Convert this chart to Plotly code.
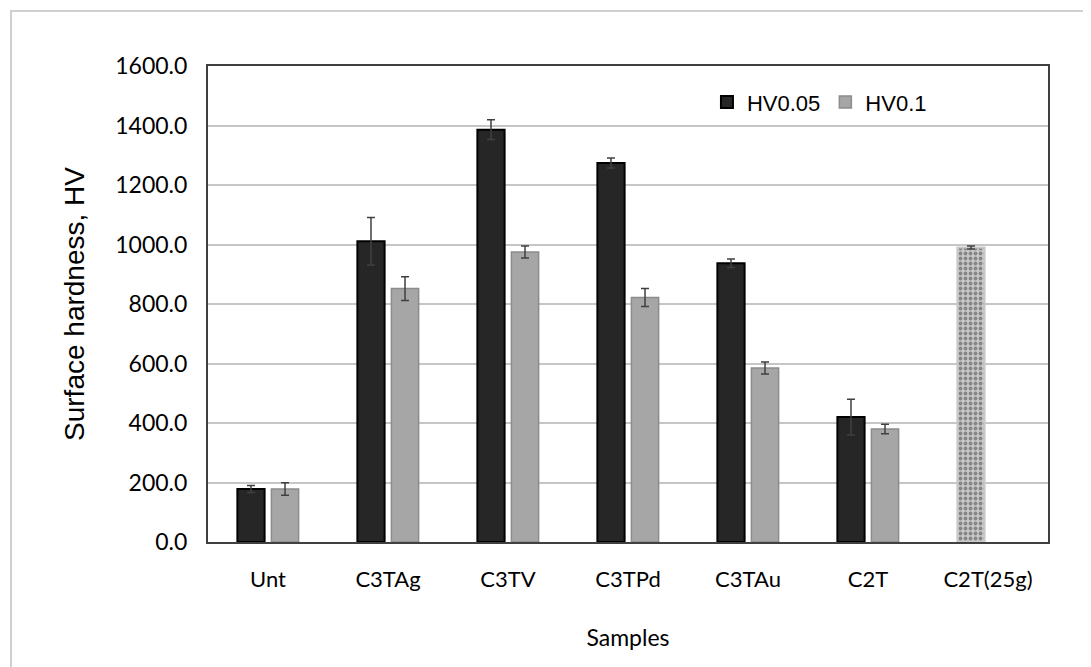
import plotly.graph_objects as go

categories = ["Unt", "C3TAg", "C3TV", "C3TPd", "C3TAu", "C2T", "C2T(25g)"]
hv005 = [178, 1011, 1386, 1274, 937, 420, 990]
hv005_err = [12, 80, 33, 17, 14, 60, 5]
hv01 = [178, 852, 975, 822, 585, 380, None]
hv01_err = [21, 40, 20, 30, 20, 16, None]
y_ticks = [0, 200, 400, 600, 800, 1000, 1200, 1400, 1600]

# last HV0.05 bar (C2T(25g)) is drawn with a speckled texture
pattern_shapes = ["", "", "", "", "", "", "."]
fill_005 = ["#262626"] * 6 + ["#c8c8c8"]
line_005 = ["#000000"] * 6 + ["#c8c8c8"]

fig = go.Figure()
fig.add_trace(go.Bar(
    name="HV0.05", x=categories, y=hv005,
    marker=dict(color=fill_005, line=dict(color=line_005, width=2),
                pattern=dict(shape=pattern_shapes, fgcolor="#1e1e1e",
                             bgcolor="#e6e6e6", size=5, solidity=0.45,
                             fillmode="overlay")),
    error_y=dict(type="data", array=hv005_err, color="#404040",
                 thickness=1.5, width=4),
))
fig.add_trace(go.Bar(
    name="HV0.1", x=categories, y=hv01,
    marker=dict(color="#a6a6a6", line=dict(color="#8c8c8c", width=1.5)),
    error_y=dict(type="data", array=hv01_err, color="#404040",
                 thickness=1.5, width=4),
))

fig.update_layout(
    width=1083, height=659,
    margin=dict(l=200, r=43, t=58, b=125, autoexpand=False),
    paper_bgcolor="white", plot_bgcolor="white",
    barmode="group", bargap=0.433, bargroupgap=0.2,
    showlegend=True,
    legend=dict(orientation="h", x=0.594, xanchor="left", y=0.968,
                yanchor="top", font=dict(family="Liberation Sans", size=22,
                                          color="#000000"),
                bgcolor="rgba(0,0,0,0)"),
    font=dict(family="Lato", color="#000000"),
)
fig.update_xaxes(
    showline=True, linecolor="#404040", linewidth=2, mirror=True,
    showgrid=False, ticks="", tickfont=dict(family="Lato", size=22),
    ticklabelstandoff=17,
    title=dict(text="Samples", font=dict(family="Lato", size=23), standoff=38),
)
fig.update_yaxes(
    range=[0, 1600], tickvals=y_ticks, tickformat=".1f",
    showline=True, linecolor="#404040", linewidth=2, mirror=True,
    showgrid=True, gridcolor="#c6c6c6", gridwidth=1.5, zeroline=False,
    ticks="", tickfont=dict(family="Lato", size=23), ticklabelstandoff=14,
    title=dict(text="Surface hardness, HV",
               font=dict(family="Liberation Sans", size=28), standoff=22),
)

# light outer frame of the chart area
fig.add_shape(type="rect", xref="paper", yref="paper",
              x0=-0.2345, x1=1.06, y0=-0.3, y1=1.1155,
              line=dict(color="#d0d0d0", width=2), layer="below")

fig.write_html("out.html")
